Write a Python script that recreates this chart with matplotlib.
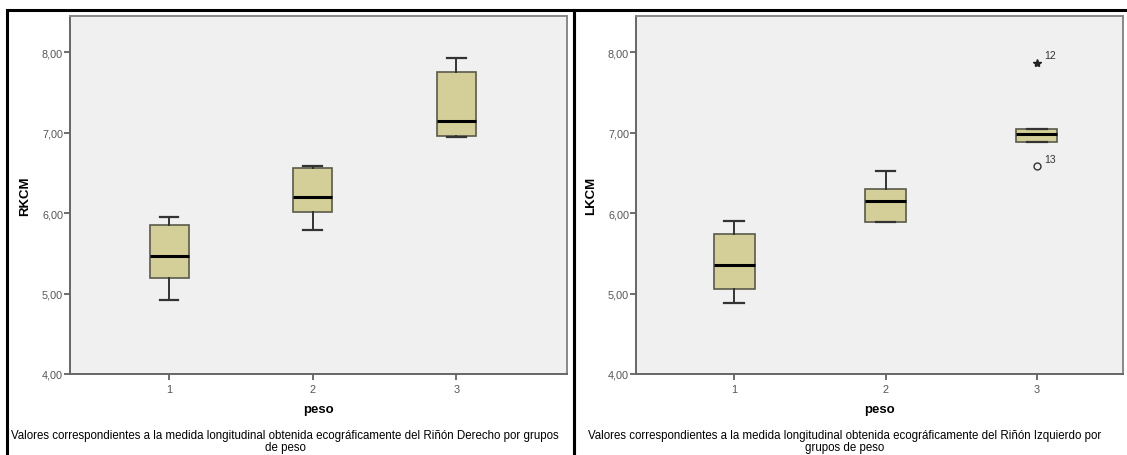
import matplotlib

matplotlib.use("Agg")
import matplotlib.pyplot as plt
from matplotlib.patches import Rectangle

W, H = 1127, 456

groups = [1, 2, 3]
group_labels = ["1", "2", "3"]

# RKCM (right kidney) per weight group: whislo, q1, med, q3, whishi
rk_whislo = [4.92, 5.79, 6.94]
rk_q1 = [5.19, 6.01, 6.96]
rk_med = [5.47, 6.20, 7.15]
rk_q3 = [5.85, 6.56, 7.75]
rk_whishi = [5.95, 6.58, 7.93]

# LKCM (left kidney)
lk_whislo = [4.88, 5.89, 6.88]
lk_q1 = [5.06, 5.89, 6.88]
lk_med = [5.35, 6.15, 6.98]
lk_q3 = [5.74, 6.30, 7.05]
lk_whishi = [5.90, 6.52, 7.05]

# outliers in LKCM, group 3
lk_extreme_val = [7.87]
lk_extreme_id = ["12"]
lk_outlier_val = [6.58]
lk_outlier_id = ["13"]

yticks = [4, 5, 6, 7, 8]
ytick_labels = ["4,00", "5,00", "6,00", "7,00", "8,00"]

caption_left = ("Valores correspondientes a la medida longitudinal obtenida ecográficamente del Riñón Derecho por grupos\n"
                "de peso")
caption_right = ("Valores correspondientes a la medida longitudinal obtenida ecográficamente del Riñón Izquierdo por\n"
                 "grupos de peso")

BOX_FACE = "#d4cf98"
BG = "#f0f0f0"
FONT = "Liberation Sans"

plt.rcParams["font.family"] = [FONT, "DejaVu Sans"]

fig = plt.figure(figsize=(W / 100, H / 100), dpi=100)
fig.patch.set_facecolor("white")


def px_axes(x0, y0, x1, y1):
    return fig.add_axes([x0 / W, 1 - y1 / H, (x1 - x0) / W, (y1 - y0) / H])


def draw_panel(ax, whislo, q1, med, q3, whishi, ylabel, xlim):
    stats = []
    for i in range(len(groups)):
        stats.append({"whislo": whislo[i], "q1": q1[i], "med": med[i],
                      "q3": q3[i], "whishi": whishi[i], "fliers": []})
    ax.bxp(stats, positions=groups, widths=0.27, patch_artist=True,
           showfliers=False, manage_ticks=False,
           boxprops=dict(facecolor=BOX_FACE, edgecolor="#5a5a4a", linewidth=1.2),
           medianprops=dict(color="black", linewidth=2.2),
           whiskerprops=dict(color="#333333", linewidth=1.4),
           capprops=dict(color="#333333", linewidth=1.6),
           capwidths=0.13)
    ax.set_facecolor(BG)
    ax.set_xlim(*xlim)
    ax.set_ylim(4, 8.45)
    ax.set_yticks(yticks)
    ax.set_yticklabels(ytick_labels)
    ax.set_xticks(groups)
    ax.set_xticklabels(group_labels)
    ax.tick_params(axis="both", direction="out", length=4, width=1.2,
                   color="#555555", labelsize=7.8, labelcolor="#555555", pad=1)
    ax.tick_params(axis="x", pad=3)
    for side, sp in ax.spines.items():
        sp.set_color("#888888" if side in ("top", "right") else "#666666")
        sp.set_linewidth(1.4)
    ax.set_xlabel("peso", fontsize=9.5, fontweight="bold", labelpad=7)
    ax.set_ylabel(ylabel, fontsize=9.5, fontweight="bold", labelpad=8)


ax1 = px_axes(70, 17, 567, 375)
draw_panel(ax1, rk_whislo, rk_q1, rk_med, rk_q3, rk_whishi, "RKCM", (0.31, 3.77))

ax2 = px_axes(636, 17, 1123, 375)
draw_panel(ax2, lk_whislo, lk_q1, lk_med, lk_q3, lk_whishi, "LKCM", (0.35, 3.57))

ax2.plot([3] * len(lk_extreme_val), lk_extreme_val, marker="*", color="#222222",
         markersize=6, linestyle="none")
ax2.plot([3] * len(lk_outlier_val), lk_outlier_val, marker="o", markerfacecolor="none",
         markeredgecolor="#333333", markersize=5, linestyle="none")
for v, t in zip(lk_extreme_val + lk_outlier_val, lk_extreme_id + lk_outlier_id):
    ax2.annotate(t, (3, v), xytext=(5, 3), textcoords="offset points",
                 fontsize=7.5, color="#333333")

fig.text(285 / W, 1 - 442 / H, caption_left, ha="center", va="center",
         fontsize=8.3, linespacing=0.92)
fig.text(845 / W, 1 - 442 / H, caption_right, ha="center", va="center",
         fontsize=8.3, linespacing=0.92)

# panel frames
for x0, x1 in [(7, 574), (574, 1140)]:
    fig.add_artist(Rectangle((x0 / W, -0.1), (x1 - x0) / W, 1.1 - 11 / H,
                             transform=fig.transFigure, fill=False,
                             edgecolor="black", linewidth=2.2))

fig.savefig("out.png", dpi=100)
plt.close(fig)
